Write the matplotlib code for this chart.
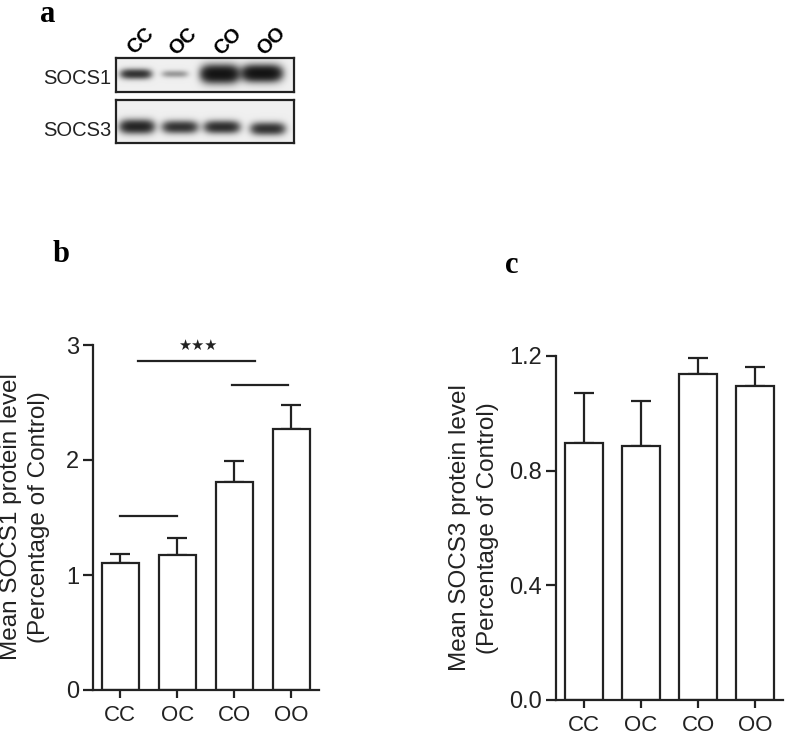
import numpy as np
import matplotlib
matplotlib.use('Agg')
import matplotlib.pyplot as plt

plt.rcParams['font.family'] = ['Liberation Sans', 'DejaVu Sans']

# ---------------- data ----------------
groups = ['CC', 'OC', 'CO', 'OO']
socs1_mean = [1.107, 1.17, 1.806, 2.267]
socs1_sem = [0.073, 0.15, 0.184, 0.211]
socs3_mean = [0.897, 0.886, 1.136, 1.095]
socs3_sem = [0.173, 0.157, 0.056, 0.068]
socs1_yticks = [0, 1, 2, 3]
socs3_yticks = [0.0, 0.4, 0.8, 1.2]
socs3_yticklabels = ['0.0', '0.4', '0.8', '1.2']
# significance lines for SOCS1: (x start, x end, y)
sig_lines = [(0.31, 2.36, 2.86), (1.96, 2.94, 2.65), (0.0, 1.0, 1.51)]
sig_label = '★★★'
sig_label_pos = (1.36, 3.0)

# western blot (panel a)
blot_lanes = ['CC', 'OC', 'CO', 'OO']
blot_rows = ['SOCS1', 'SOCS3']
socs1_band_intensity = [0.85, 0.30, 1.3, 1.3]
socs3_band_intensity = [1.0, 0.85, 0.9, 0.85]
socs1_band_x = [0.112, 0.331, 0.584, 0.82]
socs3_band_x = [0.118, 0.36, 0.596, 0.854]
socs1_band_y = [0.47, 0.47, 0.47, 0.45]
socs3_band_y = [0.62, 0.63, 0.63, 0.67]
socs1_band_w = [28, 24, 34, 36]
socs3_band_w = [31, 32, 32, 31]
socs1_band_h = [8, 6, 14, 13]
socs3_band_h = [11, 10, 10, 10]

W, H = 787, 736
fig = plt.figure(figsize=(W / 100, H / 100), dpi=100)
INK = '#222222'


def fx(px):
    return px / W


def fy(py):
    return 1 - py / H


# ---------------- panel a: blot ----------------
def draw_blot(rect, wpx, hpx, xs, ys, ws, hs, ints, label, label_y):
    ax = fig.add_axes(rect)
    nx, ny = wpx * 3, hpx * 3
    xx = np.linspace(0, wpx, nx)[None, :]
    yy = np.linspace(0, hpx, ny)[:, None]
    d = np.zeros((ny, nx))
    for xc, yc, w, h, a in zip(xs, ys, ws, hs, ints):
        xcp, ycp = xc * wpx, yc * hpx
        d += a * np.exp(-np.log(2) * np.abs((xx - xcp) / (w / 2)) ** 4) * \
            np.exp(-np.log(2) * ((yy - ycp) / (h / 2)) ** 2)
    img = 0.94 - 0.92 * np.tanh(1.3 * d)
    ax.imshow(img, cmap='gray', vmin=0, vmax=1, extent=(0, 1, 0, 1),
              aspect='auto', interpolation='bicubic', origin='upper')
    ax.set_xticks([])
    ax.set_yticks([])
    for s in ax.spines.values():
        s.set_linewidth(1.6)
        s.set_color(INK)
    ax.text(-0.025, label_y, label, transform=ax.transAxes, ha='right',
            va='center', fontsize=14.5, color=INK)
    return ax


b1 = draw_blot([fx(116), fy(92), 178 / W, 34 / H], 178, 34,
               socs1_band_x, socs1_band_y, socs1_band_w, socs1_band_h,
               socs1_band_intensity, blot_rows[0], 0.40)
b2 = draw_blot([fx(116), fy(143), 178 / W, 43 / H], 178, 43,
               socs3_band_x, socs3_band_y, socs3_band_w, socs3_band_h,
               socs3_band_intensity, blot_rows[1], 0.30)

lane_label_x = [0.14, 0.378, 0.63, 0.873]
for lx, lab in zip(lane_label_x, blot_lanes):
    b1.text(lx, 1.50, lab, transform=b1.transAxes, rotation=45, ha='center',
            va='center', fontsize=14.5, fontweight='bold', color='black')

# ---------------- bar panels ----------------
def style_bar_axes(ax):
    for s in ['top', 'right']:
        ax.spines[s].set_visible(False)
    for s in ['left', 'bottom']:
        ax.spines[s].set_linewidth(1.6)
        ax.spines[s].set_color(INK)
    ax.tick_params(axis='y', length=7, width=1.6, color=INK, pad=3,
                   labelsize=17, labelcolor=INK)
    ax.tick_params(axis='x', length=6, width=1.6, color=INK, pad=4.5,
                   labelsize=16, labelcolor=INK)
    ax.set_facecolor('none')


x = np.arange(len(groups))

# panel b
axb = fig.add_axes([fx(93), fy(690), (318.7 - 93) / W, (690 - 345) / H])
axb.bar(x, socs1_mean, width=0.66, color='white', edgecolor=INK,
        linewidth=1.6, zorder=2)
axb.errorbar(x, socs1_mean, yerr=[np.zeros(len(x)), socs1_sem], fmt='none',
             ecolor=INK, elinewidth=1.6, capsize=7.5, capthick=1.6, zorder=1)
axb.set_xlim(-0.48, 3.48)
axb.set_ylim(0, 3)
axb.set_yticks(socs1_yticks)
axb.set_xticks(x)
axb.set_xticklabels(groups)
style_bar_axes(axb)
for x0, x1, yv in sig_lines:
    axb.plot([x0, x1], [yv, yv], color=INK, lw=1.6, clip_on=False)
axb.text(sig_label_pos[0], sig_label_pos[1], sig_label, ha='center',
         va='center', fontsize=10.5, color=INK, family=['DejaVu Sans'])

# panel c
axc = fig.add_axes([fx(556), fy(700), (783 - 556) / W, (700 - 356) / H])
axc.bar(x, socs3_mean, width=0.66, color='white', edgecolor=INK,
        linewidth=1.6, zorder=2)
axc.errorbar(x, socs3_mean, yerr=[np.zeros(len(x)), socs3_sem], fmt='none',
             ecolor=INK, elinewidth=1.6, capsize=7.5, capthick=1.6, zorder=1)
axc.set_xlim(-0.49, 3.49)
axc.set_ylim(0, 1.2)
axc.set_yticks(socs3_yticks)
axc.set_yticklabels(socs3_yticklabels)
axc.set_xticks(x)
axc.set_xticklabels(groups)
style_bar_axes(axc)

# y labels
fig.text(fx(25), fy(517), 'Mean SOCS1 protein level\n(Percentage of Control)',
         rotation=90, ha='center', va='center', ma='center', fontsize=17.5,
         linespacing=1.35, color=INK)
fig.text(fx(474), fy(528), 'Mean SOCS3 protein level\n(Percentage of Control)',
         rotation=90, ha='center', va='center', ma='center', fontsize=17.5,
         linespacing=1.35, color=INK)

# panel letters
for px, py, lab in [(40, 22, 'a'), (53, 262, 'b'), (505, 273, 'c')]:
    fig.text(fx(px), fy(py), lab, ha='left', va='baseline', fontsize=22,
             fontweight='bold', family=['Liberation Serif', 'DejaVu Serif'])

fig.savefig('out.png', dpi=100)
